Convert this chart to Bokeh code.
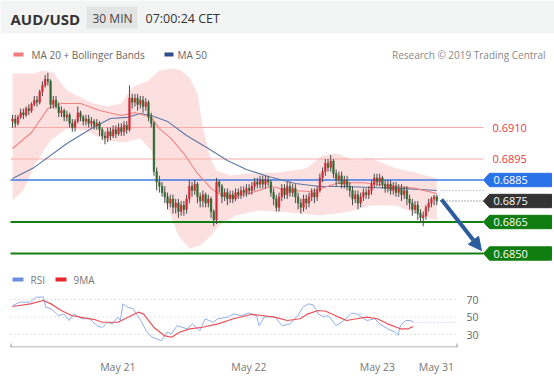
from bokeh.plotting import figure
from bokeh.models import (Range1d, Label, Arrow, NormalHead, LinearAxis, FixedTicker,
                          ColumnDataSource, BoxAnnotation)
from bokeh.core.properties import value
from bokeh.embed import file_html
from bokeh.resources import INLINE

# ---------------- data (prices in pips, 0.0001 units) ----------------
first_open = 6913
close_pips = [6914,6912,6915,6917,6916,6919,6918,6921,6923,6922,
              6927,6930,6933,6932,6921,6923,6920,6917,6918,6915,
              6916,6912,6910,6913,6917,6915,6913,6914,6912,6913,
              6911,6912,6909,6906,6905,6908,6906,6909,6907,6910,
              6908,6911,6909,6924,6922,6924,6921,6923,6920,6922,
              6915,6912,6889,6884,6882,6879,6877,6874,6876,6872,
              6874,6870,6873,6871,6876,6882,6880,6883,6877,6875,
              6878,6874,6876,6870,6866,6884,6882,6877,6879,6876,
              6878,6876,6879,6878,6880,6879,6881,6880,6882,6884,
              6883,6885,6883,6885,6884,6879,6876,6872,6877,6881,
              6878,6882,6879,6881,6877,6874,6872,6876,6874,6877,
              6879,6877,6880,6886,6889,6893,6891,6894,6888,6885,
              6887,6883,6885,6882,6880,6876,6878,6874,6877,6879,
              6878,6880,6883,6886,6884,6886,6883,6881,6883,6880,
              6882,6879,6881,6878,6880,6876,6874,6871,6873,6869,
              6867,6868,6872,6874,6876,6877,6875]
high_pips = [6916,6916,6916,6919,6919,6920,6921,6922,6925,6925,
             6928,6932,6935,6936,6933,6925,6925,6922,6920,6919,
             6918,6917,6914,6914,6920,6918,6916,6916,6916,6915,
             6914,6914,6913,6910,6908,6910,6910,6911,6911,6912,
             6912,6913,6913,6930,6926,6926,6926,6925,6925,6924,
             6923,6917,6913,6891,6887,6884,6882,6879,6878,6878,
             6876,6876,6875,6875,6878,6885,6884,6885,6884,6879,
             6880,6879,6878,6877,6871,6886,6885,6883,6881,6881,
             6880,6880,6881,6881,6882,6882,6883,6883,6884,6886,
             6886,6887,6887,6887,6887,6885,6881,6878,6879,6883,
             6883,6884,6884,6883,6883,6879,6876,6878,6878,6879,
             6881,6881,6882,6888,6891,6895,6895,6897,6895,6890,
             6889,6889,6887,6887,6884,6882,6880,6880,6879,6881,
             6881,6882,6885,6888,6888,6888,6887,6885,6885,6885,
             6884,6884,6883,6883,6882,6882,6878,6876,6875,6875,
             6871,6870,6873,6876,6877,6878,6878]
low_pips = [6910,6910,6911,6914,6914,6915,6916,6917,6920,6920,
            6921,6925,6929,6930,6919,6919,6919,6915,6915,6913,
            6913,6910,6908,6908,6912,6913,6911,6911,6910,6910,
            6909,6909,6906,6904,6902,6903,6904,6905,6905,6906,
            6906,6906,6907,6908,6919,6920,6918,6919,6917,6918,
            6913,6910,6887,6880,6879,6877,6874,6871,6872,6869,
            6869,6867,6868,6868,6869,6874,6877,6878,6874,6872,
            6872,6872,6872,6867,6863,6864,6879,6874,6875,6873,
            6874,6874,6875,6876,6876,6877,6877,6878,6878,6880,
            6881,6881,6881,6881,6882,6877,6873,6870,6870,6875,
            6876,6876,6877,6877,6874,6871,6869,6870,6871,6872,
            6875,6874,6875,6879,6884,6887,6889,6889,6886,6882,
            6883,6881,6881,6880,6877,6873,6874,6871,6872,6875,
            6876,6876,6878,6881,6882,6882,6881,6879,6879,6878,
            6878,6877,6877,6875,6876,6873,6871,6868,6869,6866,
            6865,6863,6866,6870,6872,6873,6873]

bb_up_idx = [0,8,11,15,20,25,30,35,40,44,50,54,59,62,65,68,70,73,75,80,87,98,108,114,119,126,132,141,148,156]
bb_up = [6935.7,6935.7,6937.1,6936.2,6927.6,6924.3,6921.4,6920,6921.4,6929,6932.4,6937.1,6938.1,6937.1,
         6933.8,6926.2,6910,6894.3,6889.5,6887.1,6888.1,6888.6,6890.5,6896.7,6897.6,6894.3,6895.2,6890.5,6888.6,6885.7]
bb_lo_idx = [0,4,8,14,20,27,34,41,47,51,56,61,65,69,73,76,82,91,102,113,122,132,141,150,156]
bb_lo = [6875.2,6880,6891.9,6903.8,6909.5,6908.6,6903.8,6902.9,6904.8,6899,6875.2,6858.6,6852.4,6853.8,
         6858.6,6863.3,6868.1,6870.5,6869.5,6868.1,6869.5,6872.9,6872.9,6868.1,6865.7]
ma20_idx = [0,7,13,18,25,32,40,45,51,54,58,63,68,73,77,82,88,95,102,110,119,128,139,148,156]
ma20 = [6900,6907.6,6919,6921.4,6921.4,6918.1,6915.7,6917.1,6914.8,6909.5,6905.2,6897.6,6888.1,6881,
        6877.6,6877.1,6879,6881.9,6880,6879.5,6883.3,6883.8,6882.4,6881,6878.6]
ma50_idx = [0,8,20,29,36,42,47,51,57,64,72,79,86,94,104,113,122,132,143,156]
ma50 = [6885.7,6891,6902.4,6909.5,6914.3,6914.8,6916.7,6915.7,6912.9,6906.2,6900,6894.3,6890,6886.7,
        6883.3,6881.9,6881.9,6881.4,6881,6880]

rsi_idx = [0,3,7,9,12,13,15,18,20,22,24,27,30,33,35,37,39,41,42,43,45,47,49,50,52,54,56,58,60,62,64,68,70,73,
           75,78,80,84,86,89,92,95,96,98,102,105,108,111,113,115,117,119,121,123,126,129,132,134,138,141,143,
           146,149,150,151,153,155,156]
rsi = [63,67,67,72.5,73,61,59.5,51.5,53.5,46,53.5,48,48,40,38,44,42,50,46,65,61,59.5,50,46,34.5,27.5,25,23,
       32.5,31,40,36.5,42,34.5,48,44,48,50,53.5,51.5,54.5,51.5,40,50,50.5,40,42,51.5,61,65,64,53.5,50.5,51.5,
       40,46,54.5,53.5,46,48,42,36.5,32.5,29,40,46,46,44]
rsi_ma_idx = [0,7,12,15,19,23,28,32,35,41,45,49,51,55,59,62,65,69,74,80,86,93,97,102,107,112,115,119,122,127,
              130,134,138,142,146,151,154,156]
rsi_ma = [62,65,68.9,65,57.4,51.7,49,47.1,44,44,49.8,55.5,53.6,38.3,28.8,26.9,32.6,36.5,38.3,42.2,48,52.9,
          51.7,49.8,46,48,53.6,57.4,56.6,49.8,46,48,49.8,48,42.2,36.5,36.5,39.1]

levels = [0.6910, 0.6895, 0.6885, 0.6875, 0.6865, 0.6850]
level_labels = ["0.6910", "0.6895", "0.6885", "0.6875", "0.6865", "0.6850"]
rsi_ticks = [30, 50, 70]
rsi_tick_labels = ["30", "50", "70"]
date_pos = [41, 92, 142, 165]
date_labels = ["May 21", "May 22", "May 23", "May 31"]

FONT = "Open Sans"

# ---------------- pixel helpers (reference pixel -> data) ----------------
def X(px):
    return (px - 12) / 2.72

def Y(py):
    return (6910 + (127 - py) / 2.1) / 10000

def XR(px):
    return (px - 11.9) / 2.57

def R(py):
    return 70 - (py - 299) / 0.875

W, H = 554, 376
AXIS_Y = 347
p = figure(width=W, height=H, x_range=Range1d(X(0), X(W)), y_range=Range1d(Y(AXIS_Y), Y(0)),
           output_backend="svg", toolbar_location=None, x_axis_location=None, y_axis_location=None,
           min_border_left=0, min_border_right=0, min_border_top=0, min_border_bottom=H - AXIS_Y,
           outline_line_color=None)
p.grid.visible = False
p.extra_x_ranges = {"rx": Range1d(XR(0), XR(W))}
p.extra_y_ranges = {"ry": Range1d(R(AXIS_Y), R(0))}

# header
p.add_layout(BoxAnnotation(bottom=Y(33), fill_color="#f3f4f4", fill_alpha=1, line_alpha=0, level="underlay"))
p.quad(left=X(86), right=X(137), bottom=Y(28), top=Y(6), fill_color="#e3e5e5", line_color=None)
p.add_layout(Label(x=X(10), y=Y(18), text="AUD/USD", text_font=FONT, text_font_style="bold",
                   text_font_size="15px", text_color="#333333", text_baseline="middle"))
p.add_layout(Label(x=X(92), y=Y(18), text="30 MIN", text_font=FONT, text_font_size="12px",
                   text_color="#444444", text_baseline="middle"))
p.add_layout(Label(x=X(145), y=Y(18), text="07:00:24 CET", text_font=FONT, text_font_size="12.5px",
                   text_color="#333333", text_baseline="middle"))

# legend
p.quad(left=X(13), right=X(23), bottom=Y(56), top=Y(52), fill_color="#f27b7b", line_color=None)
p.add_layout(Label(x=X(31), y=Y(54.5), text="MA 20 + Bollinger Bands", text_font=FONT,
                   text_font_size="10px", text_color="#666666", text_baseline="middle"))
p.quad(left=X(164), right=X(173), bottom=Y(56), top=Y(52), fill_color="#2c4e8a", line_color=None)
p.add_layout(Label(x=X(177), y=Y(54.5), text="MA 50", text_font=FONT,
                   text_font_size="10px", text_color="#666666", text_baseline="middle"))
p.add_layout(Label(x=X(545), y=Y(54.5), text="Research \u00a9 2019 Trading Central", text_font=FONT,
                   text_font_size="10px", text_color="#888888", text_baseline="middle", text_align="right"))

# bollinger band
bb_x = bb_up_idx + bb_lo_idx[::-1]
bb_y = [v / 1e4 for v in bb_up + bb_lo[::-1]]
p.patch(bb_x, bb_y, fill_color="#fcd9d9", fill_alpha=0.85, line_color=None)

# level lines
lvl_style = {
    "0.6910": dict(color="#f5abab", width=1.2),
    "0.6895": dict(color="#f5abab", width=1.2),
    "0.6885": dict(color="#3f7ae8", width=1.5),
    "0.6865": dict(color="#118011", width=2.2),
    "0.6850": dict(color="#118011", width=2.2),
}
for lv, lab in zip(levels, level_labels):
    if lab in lvl_style:
        s = lvl_style[lab]
        p.segment(x0=X(10), x1=X(483), y0=lv, y1=lv, line_color=s["color"], line_width=s["width"])

# current price / ma50 dotted extensions
p.segment(x0=X(440), x1=X(483), y0=levels[3], y1=levels[3], line_color="#555555", line_width=1, line_dash="1 2")
p.segment(x0=X(440), x1=X(483), y0=ma50[-1] / 1e4, y1=ma50[-1] / 1e4, line_color="#8fa8d8",
          line_width=1, line_dash="1 2")

# MA lines
p.line(ma50_idx, [v / 1e4 for v in ma50], line_color="#5d76a3", line_width=1.1)
p.line(ma20_idx, [v / 1e4 for v in ma20], line_color="#ef8484", line_width=1.1)

# candles
n = len(close_pips)
opens = [first_open] + close_pips[:-1]
src = ColumnDataSource(dict(
    x=list(range(n)),
    top=[max(o, c) / 1e4 for o, c in zip(opens, close_pips)],
    bottom=[min(o, c) / 1e4 for o, c in zip(opens, close_pips)],
    high=[h / 1e4 for h in high_pips],
    low=[l / 1e4 for l in low_pips],
    color=["#d42a35" if c > o else "#2f6a31" for o, c in zip(opens, close_pips)],
))
p.segment(x0="x", x1="x", y0="low", y1="high", source=src, line_color="#4a4a4a", line_width=1)
p.vbar(x="x", width=0.6, top="top", bottom="bottom", source=src, fill_color="color", line_color="color",
       line_width=0.5)

# label boxes
box_cols = {"0.6885": "#2a72e8", "0.6875": "#333333", "0.6865": "#0f7d0f", "0.6850": "#0f7d0f"}
d = 6.7 / 2.1 / 1e4
for lv, lab in zip(levels, level_labels):
    if lab in box_cols:
        p.patch([X(483), X(489), X(551), X(551), X(489)], [lv, lv + d, lv + d, lv - d, lv - d],
                fill_color=box_cols[lab], line_color=box_cols[lab])
        p.add_layout(Label(x=X(493), y=lv, text=lab, text_font=FONT, text_font_size="11px",
                           text_color="white", text_baseline="middle"))
    else:
        p.add_layout(Label(x=X(492), y=lv, text=lab, text_font=FONT, text_font_size="11px",
                           text_color="#e63a3f", text_baseline="middle"))

# arrow
p.add_layout(Arrow(end=NormalHead(size=13, fill_color="#2b5d9e", line_color="#2b5d9e"),
                   x_start=X(441), y_start=Y(199), x_end=X(481), y_end=Y(250),
                   line_color="#2b5d9e", line_width=4))

# ---------------- RSI panel (same canvas, own ranges) ----------------
p.segment(x0=XR(10), x1=XR(457), y0=rsi_ticks, y1=rsi_ticks, x_range_name="rx", y_range_name="ry",
          line_color="#c4c4c4", line_width=1, line_dash="1 3")
p.text(x=[XR(466)] * len(rsi_ticks), y=rsi_ticks, text=rsi_tick_labels, x_range_name="rx", y_range_name="ry",
       text_font=value(FONT), text_font_size="10.5px", text_color="#666666", text_baseline="middle")

# RSI legend
p.quad(left=XR(12), right=XR(23), bottom=R(281), top=R(277), x_range_name="rx", y_range_name="ry",
       fill_color="#6b8fe0", line_color=None)
p.add_layout(Label(x=XR(30), y=R(279), x_range_name="rx", y_range_name="ry", text="RSI", text_font=FONT,
                   text_font_size="10px", text_color="#777777", text_baseline="middle"))
p.quad(left=XR(55), right=XR(66), bottom=R(281), top=R(277), x_range_name="rx", y_range_name="ry",
       fill_color="#e8262d", line_color=None)
p.add_layout(Label(x=XR(73), y=R(279), x_range_name="rx", y_range_name="ry", text="9MA", text_font=FONT,
                   text_font_size="10px", text_color="#777777", text_baseline="middle"))

p.line(rsi_idx, rsi, x_range_name="rx", y_range_name="ry", line_color="#93aeea", line_width=1)
p.segment(x0=rsi_idx[-1], x1=XR(457), y0=rsi[-1], y1=rsi[-1], x_range_name="rx", y_range_name="ry",
          line_color="#a8bff0", line_width=1, line_dash="1 2")
p.line(rsi_ma_idx, rsi_ma, x_range_name="rx", y_range_name="ry", line_color="#e8505a", line_width=1.2)

# time axis (drawn line + labels via a real axis on the RSI x range)
p.segment(x0=XR(10), x1=XR(457), y0=R(AXIS_Y - 0.5), y1=R(AXIS_Y - 0.5), x_range_name="rx", y_range_name="ry",
          line_color="#9a9a9a", line_width=1)
p.segment(x0=[XR(10.5), XR(456.5)], x1=[XR(10.5), XR(456.5)], y0=R(AXIS_Y), y1=R(AXIS_Y - 4),
          x_range_name="rx", y_range_name="ry", line_color="#9a9a9a", line_width=1)
xa = LinearAxis(x_range_name="rx", ticker=FixedTicker(ticks=date_pos),
                major_label_overrides={k: v for k, v in zip(date_pos, date_labels)},
                axis_line_color=None, major_tick_line_color=None, minor_tick_line_color=None,
                major_label_standoff=6, major_label_text_font=FONT, major_label_text_font_size="10.5px",
                major_label_text_color="#777777")
p.add_layout(xa, "below")

open("out.html", "w").write(file_html(p, INLINE))
